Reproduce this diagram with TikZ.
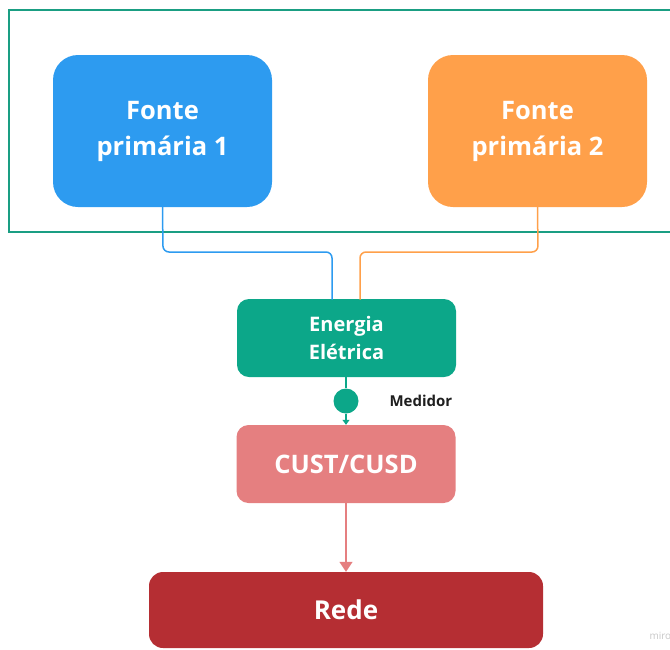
\documentclass[tikz,border=0pt]{standalone}
\usepackage{fontspec}
\setmainfont{Open Sans}
\usetikzlibrary{arrows.meta}

\definecolor{frameteal}{RGB}{26,158,131}
\definecolor{srcblue}{RGB}{45,155,240}
\definecolor{srcorange}{RGB}{255,160,74}
\definecolor{energygreen}{RGB}{12,167,137}
\definecolor{custpink}{RGB}{229,127,128}
\definecolor{gridred}{RGB}{181,46,51}
\definecolor{labeldark}{RGB}{30,30,30}

\tikzset{
  box/.style={rounded corners=#1, inner sep=0pt, align=center, text=white,
              font=\bfseries},
  srcbox/.style={box=25pt, minimum width=219pt, minimum height=152pt},
  srctext/.style={align=center, text=white, inner sep=0pt,
                  font={\bfseries\fontsize{25.5}{36}\selectfont}},
  midbox/.style={box=12pt, minimum width=219pt, minimum height=78pt},
  link/.style={line width=1.5pt, rounded corners=6pt},
}

\begin{document}
\begin{tikzpicture}[x=1pt, y=-1pt]
  \useasboundingbox (0,0) rectangle (670,649);

  % outer frame around the primary sources (open to the right)
  \draw[frameteal, line width=2.5pt] (680,10) -- (9,10) -- (9,232) -- (680,232);

  % primary sources
  \node[srcbox, fill=srcblue]   (f1) at (162.5,131) {};
  \node[srcbox, fill=srcorange] (f2) at (537.5,131) {};
  \node[srctext] (f1t) at (162.5,131.5) {Fonte\\primária 1};
  \node[srctext] (f2t) at (537.5,131.5) {Fonte\\primária 2};

  % electrical energy
  \node[midbox, fill=energygreen, font={\bfseries\fontsize{20}{28}\selectfont}]
        (en) at (346.5,338) {Energia\\Elétrica};

  % meter
  \node[circle, fill=energygreen, minimum size=25pt, inner sep=0pt] (med) at (346,401) {};
  \node[anchor=west, text=labeldark, font={\bfseries\fontsize{15}{16}\selectfont}]
        (medlbl) at (386,401) {Medidor};

  % tariff box
  \node[midbox, fill=custpink, font={\bfseries\fontsize{25.5}{28}\selectfont}]
        (cust) at (346,464) {CUST/CUSD};

  % grid
  \node[box=14pt, fill=gridred, minimum width=394pt, minimum height=76pt,
        font={\bfseries\fontsize{26}{28}\selectfont}]
        (rede) at (346,610) {Rede};

  % connectors from the sources into the energy box
  \draw[link, srcblue]   (f1.south) -- (163,252) -- (332,252) -- (332,299.5);
  \draw[link, srcorange] (f2.south) -- (538,252) -- (360,252) -- (360,299.5);

  % energy -> meter -> tariff -> grid
  \draw[energygreen, line width=1.5pt] (en.south -| med) -- (med.north);
  \draw[energygreen, line width=1.5pt, -{Triangle[width=7pt,length=5pt]}]
        (med.south) -- (med.south |- cust.north);
  \draw[custpink, line width=1.5pt, -{Triangle[width=13pt,length=10pt]}]
        (cust.south) -- (rede.north);

  % watermark
  \node[anchor=west, text=black!22, font={\fontsize{10}{12}\selectfont}]
        (wm) at (646,636) {miro};
\end{tikzpicture}
\end{document}
